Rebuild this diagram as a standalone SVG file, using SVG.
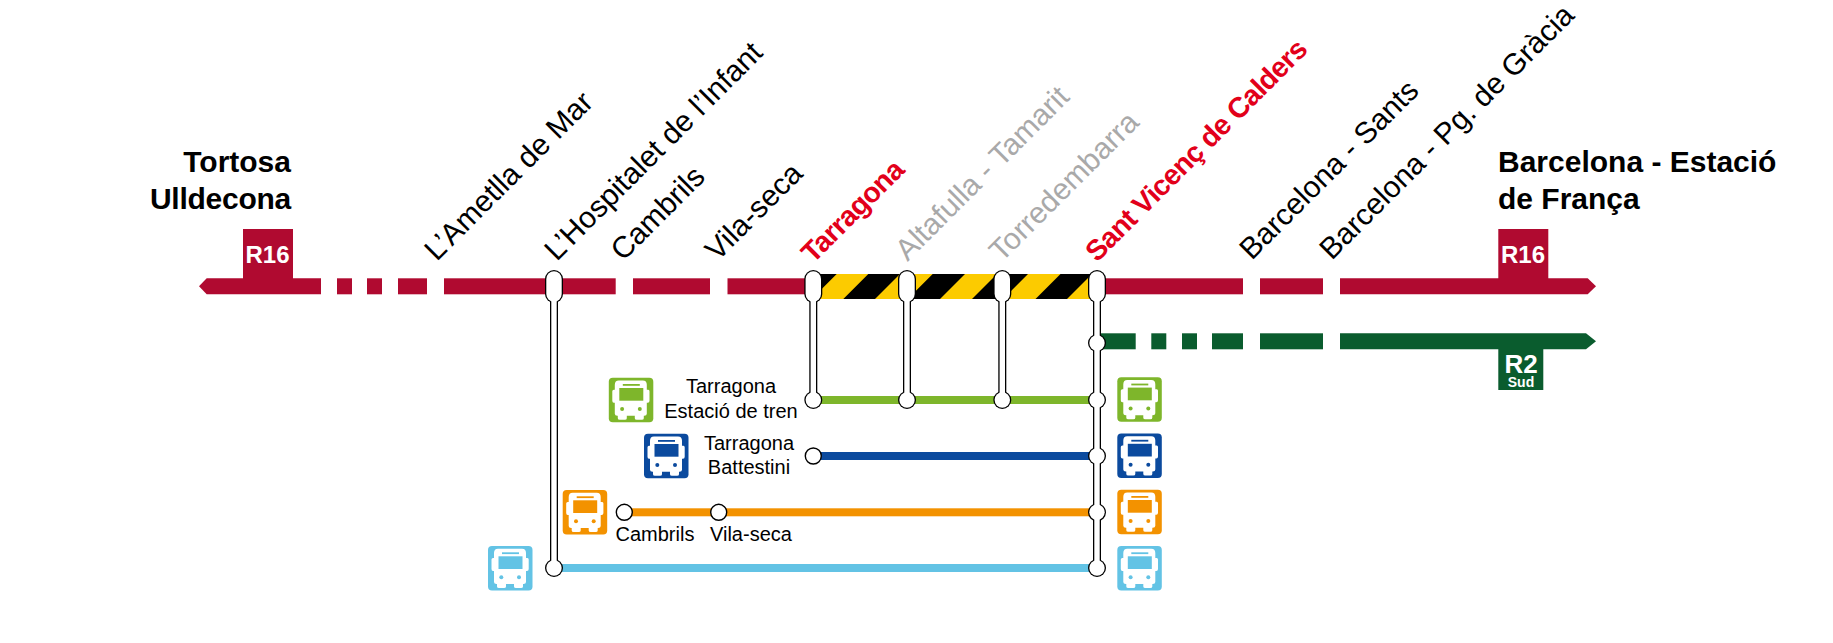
<svg xmlns="http://www.w3.org/2000/svg" xmlns:xlink="http://www.w3.org/1999/xlink" width="1833" height="643" viewBox="0 0 1833 643">
<style>
text{font-family:"Liberation Sans",Arial,sans-serif;fill:#000}
.st{font-size:30px}
.b{font-size:28.500px;font-weight:700;letter-spacing:-.7px}
.red{fill:#e2001a}
.gr{fill:#a9a9a9}
.term{font-size:30px;font-weight:700}
.sm{font-size:20px}
.mid{text-anchor:middle}
.w{fill:#fff;font-weight:700;text-anchor:middle}
.r16{fill:#b00a30}
.r2{fill:#0a5c2e}
.ol{fill:#000}
.wh{fill:#fff}
.lg{color:#7eb62b}.lb{color:#0b4a9e}.lo{color:#f39200}.ls{color:#63c3e5}
</style>
<defs>
<g id="bus">
<rect width="44.500" height="44.500" rx="4" fill="currentColor"/>
<path fill="#fff" d="M10 2.700H34Q38 2.700 38 7V12H39.500Q40.700 12 40.700 13.500V23Q40.700 25 39 25H38V36Q38 38 35.500 38H35V40.500Q35 42 33 42H28Q26 42 26 40.500V38H18V40.500Q18 42 16 42H11Q9 42 9 40.500V38H8.500Q6 38 6 36V25H5Q3.500 25 3.500 23V13.500Q3.500 12 5 12H6V7Q6 2.700 10 2.700Z"/>
<rect x="10.500" y="10.300" width="24" height="12.700" fill="currentColor"/>
<rect x="14" y="6.300" width="17" height="1.800" fill="currentColor"/>
<circle cx="13.300" cy="31.300" r="2" fill="currentColor"/>
<circle cx="31" cy="31.300" r="2" fill="currentColor"/>
</g>
</defs>

<g id="connectors">
<g id="line-r16" class="r16">
<path d="M199 286.300L206.700 278.300H321V294.300H206.700Z"/>
<rect x="337" y="278.300" width="15" height="16"/>
<rect x="367" y="278.300" width="15" height="16"/>
<rect x="398" y="278.300" width="29" height="16"/>
<rect x="444" y="278.300" width="171.700" height="16"/>
<rect x="633" y="278.300" width="77" height="16"/>
<rect x="727.500" y="278.300" width="87" height="16"/>
<rect x="1097" y="278.300" width="146" height="16"/>
<rect x="1260" y="278.300" width="63" height="16"/>
<path d="M1340 278.300H1587.700L1596 286.300L1587.700 294.300H1340Z"/>
</g>
<g id="line-r2" class="r2">
<rect x="1097" y="333.300" width="38.700" height="16"/>
<rect x="1151.300" y="333.300" width="15" height="16"/>
<rect x="1182" y="333.300" width="15" height="16"/>
<rect x="1212" y="333.300" width="31" height="16"/>
<rect x="1260" y="333.300" width="63" height="16"/>
<path d="M1340 333.300H1586L1596 341.300L1586 349.300H1340Z"/>
</g>
<g id="works">
<rect x="813" y="274" width="284" height="25" fill="#fccb00"/>
<path fill="#000" d="M813 274H836.700L811.700 299H813ZM868.300 274H900L875 299H843.300ZM932.700 274H965L940 299H907.700ZM997 274H1028L1003 299H972ZM1060.500 274H1092L1067 299H1035.500Z"/>
</g>
<rect id="bus-green" x="813" y="396" width="284" height="8" fill="#7eb62b"/>
<rect id="bus-blue" x="813" y="452" width="284" height="8" fill="#0b4a9e"/>
<rect id="bus-orange" x="624" y="508.300" width="473" height="8" fill="#f39200"/>
<rect id="bus-sky" x="554" y="564" width="543" height="8" fill="#63c3e5"/>
</g>

<g id="node-hospitalet">
<rect class="ol" x="550" y="290" width="8" height="278"/><rect class="ol" x="545" y="270" width="18" height="33" rx="9"/><circle class="ol" cx="554" cy="568" r="9"/>
<rect class="wh" x="551.300" y="290" width="5.400" height="278"/><rect class="wh" x="546.300" y="271.300" width="15.400" height="30.400" rx="7.700"/><circle class="wh" cx="554" cy="568" r="7.700"/>
</g>
<g id="node-tarragona">
<rect class="ol" x="809.300" y="290" width="8" height="110"/><rect class="ol" x="804.300" y="270" width="18" height="33" rx="9"/><circle class="ol" cx="813.300" cy="400" r="9"/>
<rect class="wh" x="810.600" y="290" width="5.400" height="110"/><rect class="wh" x="805.600" y="271.300" width="15.400" height="30.400" rx="7.700"/><circle class="wh" cx="813.300" cy="400" r="7.700"/>
</g>
<g id="node-altafulla">
<rect class="ol" x="903" y="290" width="8" height="110"/><rect class="ol" x="898" y="270" width="18" height="33" rx="9"/><circle class="ol" cx="907" cy="400" r="9"/>
<rect class="wh" x="904.300" y="290" width="5.400" height="110"/><rect class="wh" x="899.300" y="271.300" width="15.400" height="30.400" rx="7.700"/><circle class="wh" cx="907" cy="400" r="7.700"/>
</g>
<g id="node-torredembarra">
<rect class="ol" x="998.300" y="290" width="8" height="110"/><rect class="ol" x="993.300" y="270" width="18" height="33" rx="9"/><circle class="ol" cx="1002.300" cy="400" r="9"/>
<rect class="wh" x="999.600" y="290" width="5.400" height="110"/><rect class="wh" x="994.600" y="271.300" width="15.400" height="30.400" rx="7.700"/><circle class="wh" cx="1002.300" cy="400" r="7.700"/>
</g>
<g id="node-sant-vicenc">
<rect class="ol" x="1093" y="290" width="8" height="278"/><rect class="ol" x="1088" y="270" width="18" height="33" rx="9"/>
<circle class="ol" cx="1097" cy="343" r="9"/><circle class="ol" cx="1097" cy="400" r="9"/><circle class="ol" cx="1097" cy="456" r="9"/><circle class="ol" cx="1097" cy="512.300" r="9"/><circle class="ol" cx="1097" cy="568" r="9"/>
<rect class="wh" x="1094.300" y="290" width="5.400" height="278"/><rect class="wh" x="1089.300" y="271.300" width="15.400" height="30.400" rx="7.700"/>
<circle class="wh" cx="1097" cy="343" r="7.700"/><circle class="wh" cx="1097" cy="400" r="7.700"/><circle class="wh" cx="1097" cy="456" r="7.700"/><circle class="wh" cx="1097" cy="512.300" r="7.700"/><circle class="wh" cx="1097" cy="568" r="7.700"/>
</g>
<g id="node-battestini"><circle cx="813.300" cy="456" r="8" fill="#fff" stroke="#000" stroke-width="1.400"/>
<text class="sm mid" x="749" y="450">Tarragona</text><text class="sm mid" x="749" y="474">Battestini</text></g>
<g id="node-cambrils-bus"><circle cx="624.300" cy="512.300" r="8" fill="#fff" stroke="#000" stroke-width="1.400"/>
<text class="sm" x="615.500" y="541">Cambrils</text></g>
<g id="node-vilaseca-bus"><circle cx="718.700" cy="512.300" r="8" fill="#fff" stroke="#000" stroke-width="1.400"/>
<text class="sm" x="710" y="541">Vila-seca</text></g>
<g id="node-estacio-label"><text class="sm mid" x="731" y="393">Tarragona</text><text class="sm mid" x="731" y="417.700">Estació de tren</text></g>

<g id="bus-icons">
<use href="#bus" class="lg" x="608.800" y="377.700"/>
<use href="#bus" class="lb" x="644" y="433.700"/>
<use href="#bus" class="lo" x="562.700" y="490"/>
<use href="#bus" class="ls" x="488" y="546"/>
<use href="#bus" class="lg" x="1117.300" y="377.300"/>
<use href="#bus" class="lb" x="1117.300" y="433.500"/>
<use href="#bus" class="lo" x="1117.300" y="489.700"/>
<use href="#bus" class="ls" x="1117.300" y="546"/>
</g>

<g id="badge-r16-left"><rect class="r16" x="243" y="229" width="50" height="50"/><text class="w" x="267.500" y="263" font-size="24">R16</text></g>
<g id="badge-r16-right"><rect class="r16" x="1498.300" y="229" width="50" height="50"/><text class="w" x="1523" y="263" font-size="24">R16</text></g>
<g id="badge-r2"><rect class="r2" x="1498.300" y="349" width="45" height="41"/><text class="w" x="1521" y="372.700" font-size="26">R2</text><text class="w" x="1521" y="387" font-size="14">Sud</text></g>

<g id="labels">
<text class="term" text-anchor="end" x="291" y="172">Tortosa</text>
<text class="term" text-anchor="end" x="291" y="209" letter-spacing="-.25">Ulldecona</text>
<text class="term" x="1498" y="172">Barcelona - Estació</text>
<text class="term" x="1498" y="209">de França</text>
<text class="st" transform="translate(436.700 262) rotate(-45)">L’Ametlla de Mar</text>
<text class="st" transform="translate(556.700 262) rotate(-45)">L’Hospitalet de l’Infant</text>
<text class="st" transform="translate(623 262) rotate(-45)">Cambrils</text>
<text class="st" transform="translate(717.500 262) rotate(-45)">Vila-seca</text>
<text class="b red" transform="translate(813 264.300) rotate(-45)">Tarragona</text>
<text class="st gr" transform="translate(907.500 262) rotate(-45)">Altafulla - Tamarit</text>
<text class="st gr" transform="translate(1001.500 263) rotate(-45)">Torredembarra</text>
<text class="b red" transform="translate(1097 263) rotate(-45)">Sant Vicenç de Calders</text>
<text class="st" transform="translate(1251.700 261) rotate(-45)">Barcelona - Sants</text>
<text class="st" transform="translate(1331.700 261) rotate(-45)">Barcelona - Pg. de Gràcia</text>
</g>
</svg>
